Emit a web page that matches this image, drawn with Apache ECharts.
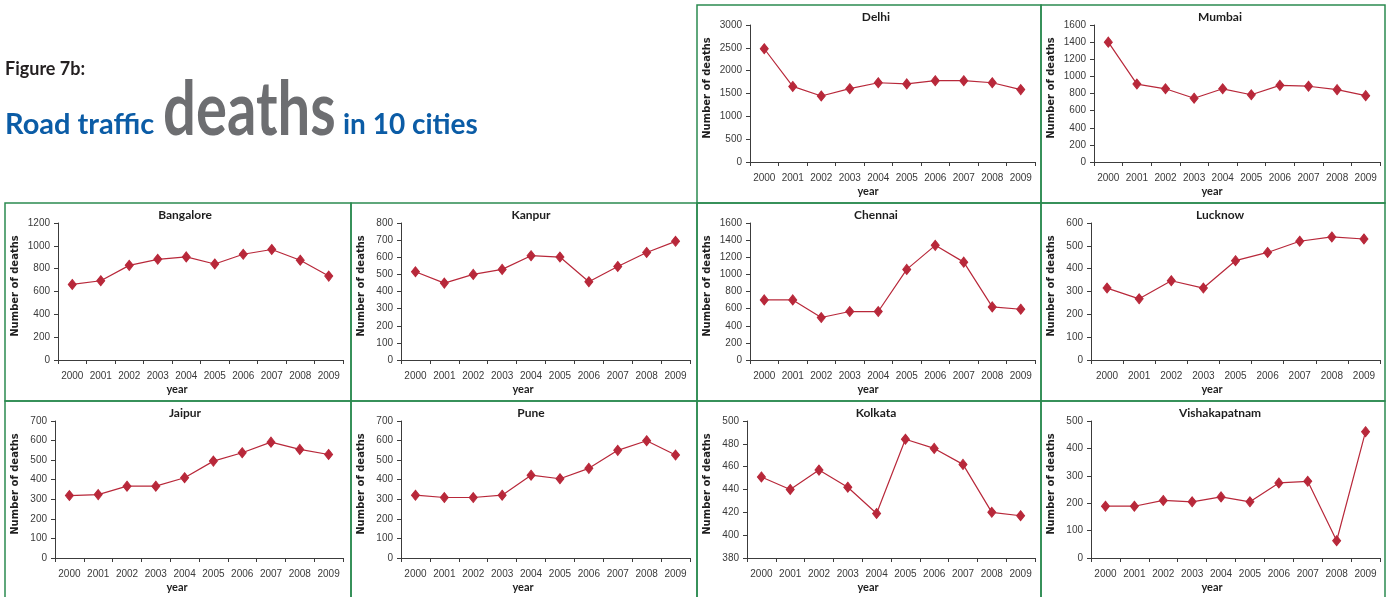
<!DOCTYPE html>
<html>
<head>
<meta charset="utf-8">
<title>Road traffic deaths in 10 cities</title>
<script src="https://cdn.jsdelivr.net/npm/echarts@6/dist/echarts.min.js"></script>
<style>
  html, body { margin: 0; padding: 0; background: #ffffff; }
  #chart { width: 1388px; height: 597px; }
</style>
</head>
<body>
<div id="chart"></div>
<script>
// Years on the category axis (Lucknow has no 2004 figure)
const years = ['2000', '2001', '2002', '2003', '2004', '2005', '2006', '2007', '2008', '2009'];
const yearsLucknow = ['2000', '2001', '2002', '2003', '2005', '2006', '2007', '2008', '2009'];

// Road traffic deaths per year
const delhi = [2480, 1655, 1445, 1605, 1735, 1710, 1780, 1780, 1735, 1585];
const mumbai = [1400, 910, 855, 745, 855, 785, 895, 885, 845, 775];
const bangalore = [662, 694, 829, 882, 903, 841, 926, 968, 874, 735];
const kanpur = [515, 449, 500, 529, 609, 601, 457, 546, 628, 693];
const chennai = [702, 702, 496, 566, 566, 1058, 1339, 1143, 620, 593];
const lucknow = [315, 268, 347, 315, 435, 471, 520, 539, 530];
const jaipur = [319, 324, 367, 367, 410, 495, 538, 592, 555, 529];
const pune = [321, 309, 309, 321, 423, 405, 458, 550, 599, 526];
const kolkata = [451, 440, 457, 442, 419, 484, 476, 462, 420, 417];
const vishakapatnam = [189, 189, 210, 205, 223, 205, 274, 280, 63, 461];

// City names and the value axis range / step for each small chart
const cityNames = ['Delhi', 'Mumbai', 'Bangalore', 'Kanpur', 'Chennai', 'Lucknow', 'Jaipur', 'Pune', 'Kolkata', 'Vishakapatnam'];
const yMin = [0, 0, 0, 0, 0, 0, 0, 0, 380, 0];
const yMax = [3000, 1600, 1200, 800, 1600, 600, 700, 700, 500, 500];
const yStep = [500, 200, 200, 100, 200, 100, 100, 100, 20, 100];

const seriesValues = [delhi, mumbai, bangalore, kanpur, chennai, lucknow, jaipur, pune, kolkata, vishakapatnam];
const seriesYears = [years, years, years, years, years, yearsLucknow, years, years, years, years];

// Panel placement (row, column) in the 3 x 4 layout
const panelCell = [[0, 2], [0, 3], [1, 0], [1, 1], [1, 2], [1, 3], [2, 0], [2, 1], [2, 2], [2, 3]];
const colX = [5, 351, 697, 1041];
const colW = [346, 346, 344, 344];
const colRightPad = [8, 7, 6, 5];
const rowY = [5, 203, 401];
const panelH = 198;

const RED = '#b8283a';
const FRAME = '#2b8a50';
const AXIS = '#3c3c3c';
const TICK_TEXT = '#3a3a3a';

const grids = [], xAxes = [], yAxes = [], series = [], graphics = [];

cityNames.forEach(function (name, i) {
  const r = panelCell[i][0], c = panelCell[i][1];
  const x0 = colX[c], y0 = rowY[r], w = colW[c];
  const wideLabels = String(yMax[i]).length >= 4;
  const leftPad = wideLabels ? 53 : 50;

  grids.push({
    left: x0 + leftPad,
    top: y0 + 20,
    width: w - leftPad - colRightPad[c],
    height: 137
  });

  xAxes.push({
    type: 'category',
    gridIndex: i,
    data: seriesYears[i],
    boundaryGap: true,
    axisLine: { lineStyle: { color: AXIS, width: 1 } },
    axisTick: { show: true, length: 4, lineStyle: { color: AXIS } },
    axisLabel: {
      interval: 0, margin: 11, color: TICK_TEXT,
      fontFamily: 'Liberation Sans', fontSize: 10
    },
    splitLine: { show: false }
  });

  yAxes.push({
    type: 'value',
    gridIndex: i,
    min: yMin[i],
    max: yMax[i],
    interval: yStep[i],
    axisLine: { show: true, lineStyle: { color: AXIS, width: 1 } },
    axisTick: { show: true, length: 4, lineStyle: { color: AXIS } },
    axisLabel: {
      margin: 8, color: TICK_TEXT,
      fontFamily: 'Liberation Sans', fontSize: 10,
      formatter: function (v) { return String(v); }
    },
    splitLine: { show: false }
  });

  series.push({
    type: 'line',
    name: name,
    xAxisIndex: i,
    yAxisIndex: i,
    data: seriesValues[i],
    symbol: 'diamond',
    symbolSize: [8, 10],
    showAllSymbol: true,
    lineStyle: { color: RED, width: 1.2 },
    itemStyle: { color: RED, borderColor: RED },
    emphasis: { disabled: true },
    animation: false
  });

  // panel frame
  graphics.push({
    type: 'rect',
    shape: { x: x0, y: y0, width: w, height: panelH },
    style: { fill: null, stroke: FRAME, lineWidth: 1.5 },
    silent: true
  });

  // city title
  graphics.push({
    type: 'text',
    x: x0 + w / 2 + 7,
    y: y0 + 12,
    style: {
      text: name,
      fill: '#1e1e1e',
      font: 'bold 12px Lato',
      align: 'center', verticalAlign: 'middle',
      textAlign: 'center', textVerticalAlign: 'middle'
    },
    silent: true
  });

  // x axis title
  graphics.push({
    type: 'text',
    x: x0 + w / 2 - 1,
    y: y0 + 186.5,
    style: {
      text: 'year',
      fill: '#1e1e1e',
      font: 'bold 11px Lato',
      align: 'center', verticalAlign: 'middle',
      textAlign: 'center', textVerticalAlign: 'middle'
    },
    silent: true
  });

  // y axis title
  graphics.push({
    type: 'text',
    x: x0 + 10,
    y: y0 + 83,
    rotation: Math.PI / 2,
    style: {
      text: 'Number of deaths',
      fill: '#1e1e1e',
      font: 'bold 10px "DejaVu Sans"',
      align: 'center', verticalAlign: 'middle',
      textAlign: 'center', textVerticalAlign: 'middle'
    },
    silent: true
  });
});

// Figure heading
graphics.push({
  type: 'text', x: 5, y: 75,
  style: {
    text: 'Figure 7b:', fill: '#231f20', font: 'bold 18px Lato',
    align: 'left', verticalAlign: 'middle', textAlign: 'left', textVerticalAlign: 'middle',
    y: -5.4
  },
  silent: true
});
graphics.push({
  type: 'text', x: 5, y: 133,
  style: {
    text: 'Road traffic', fill: '#0b5ca6', font: 'bold 29px Lato',
    align: 'left', verticalAlign: 'middle', textAlign: 'left', textVerticalAlign: 'middle',
    y: -8.7
  },
  silent: true
});
graphics.push({
  type: 'text', x: 163, y: 133, scaleX: 1.0, scaleY: 1.3,
  style: {
    text: 'deaths', fill: '#6d6e71', font: 'bold 58px Lato',
    align: 'left', verticalAlign: 'middle', textAlign: 'left', textVerticalAlign: 'middle',
    y: -17.4
  },
  silent: true
});
graphics.push({
  type: 'text', x: 343, y: 133,
  style: {
    text: 'in 10 cities', fill: '#0b5ca6', font: 'bold 28px Lato',
    align: 'left', verticalAlign: 'middle', textAlign: 'left', textVerticalAlign: 'middle',
    y: -8.4
  },
  silent: true
});

const chart = echarts.init(document.getElementById('chart'), null, { renderer: 'canvas' });
chart.setOption({
  animation: false,
  backgroundColor: '#ffffff',
  grid: grids,
  xAxis: xAxes,
  yAxis: yAxes,
  series: series,
  graphic: { elements: graphics }
});
</script>
</body>
</html>
